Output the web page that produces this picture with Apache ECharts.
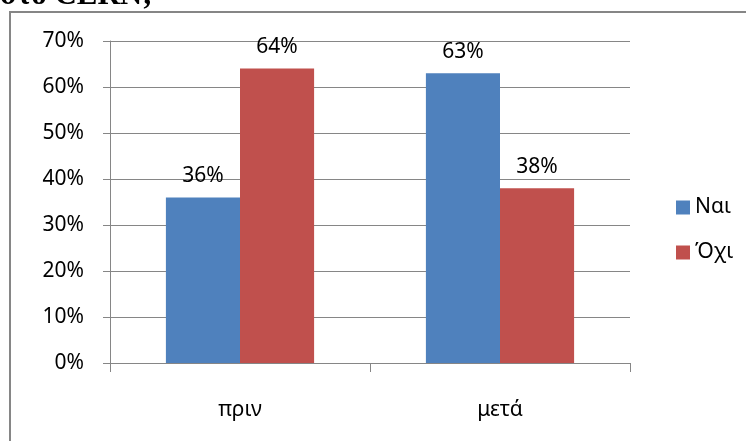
<!DOCTYPE html>
<html>
<head>
<meta charset="utf-8">
<script src="https://cdn.jsdelivr.net/npm/echarts@6/dist/echarts.min.js"></script>
<style>
  html, body { margin: 0; padding: 0; background: #fff; }
  #chart { width: 746px; height: 441px; }
</style>
</head>
<body>
<div id="chart"></div>
<script>
// Survey answers before and after the visit, in percent
const categories = ['πριν', 'μετά'];
const seriesNames = ['Ναι', 'Όχι'];
const yesValues = [36, 63];
const noValues = [64, 38];
const yTicks = { min: 0, max: 70, step: 10 };

const gray = '#868686';
const labelFont = '"Noto Sans", "Open Sans", sans-serif';

const chart = echarts.init(document.getElementById('chart'), null, { renderer: 'canvas' });

const barLabel = {
  show: true,
  position: 'top',
  distance: 11,
  color: '#000',
  fontFamily: labelFont,
  fontSize: 21,
  formatter: '{c}%'
};

chart.setOption({
  animation: false,
  backgroundColor: '#fff',
  graphic: [
    {
      type: 'rect',
      shape: { x: 10, y: 12, width: 800, height: 500 },
      style: { fill: 'none', stroke: gray, lineWidth: 2 },
      silent: true
    },
    {
      type: 'text',
      left: 0,
      top: -20,
      style: {
        text: 'στο CERN;',
        font: 'bold 31px "Liberation Serif", "DejaVu Serif", serif',
        fill: '#000'
      },
      silent: true
    }
  ],
  grid: { left: 110, right: 116, top: 41, bottom: 78 },
  legend: {
    orient: 'vertical',
    left: 671,
    top: 192,
    itemWidth: 14,
    itemHeight: 14,
    itemGap: 24,
    icon: 'rect',
    textStyle: { fontFamily: labelFont, fontSize: 21, color: '#000' },
    data: seriesNames
  },
  xAxis: {
    type: 'category',
    data: categories,
    boundaryGap: true,
    axisLine: { show: true, lineStyle: { color: gray, width: 1 } },
    axisTick: { show: true, length: 9, lineStyle: { color: gray } },
    axisLabel: { margin: 37, color: '#000', fontFamily: labelFont, fontSize: 21 },
    splitLine: { show: false }
  },
  yAxis: {
    type: 'value',
    min: yTicks.min,
    max: yTicks.max,
    interval: yTicks.step,
    axisLine: { show: true, lineStyle: { color: gray, width: 1 } },
    axisTick: { show: true, length: 7, lineStyle: { color: gray } },
    axisLabel: { margin: 26, color: '#000', fontFamily: labelFont, fontSize: 21, formatter: '{value}%' },
    splitLine: { show: true, lineStyle: { color: gray, width: 1 } }
  },
  series: [
    {
      name: seriesNames[0],
      type: 'bar',
      data: yesValues,
      barGap: '0%',
      barCategoryGap: '43%',
      itemStyle: { color: '#4F81BD' },
      label: barLabel
    },
    {
      name: seriesNames[1],
      type: 'bar',
      data: noValues,
      barGap: '0%',
      barCategoryGap: '43%',
      itemStyle: { color: '#C0504D' },
      label: barLabel
    }
  ]
});
</script>
</body>
</html>
